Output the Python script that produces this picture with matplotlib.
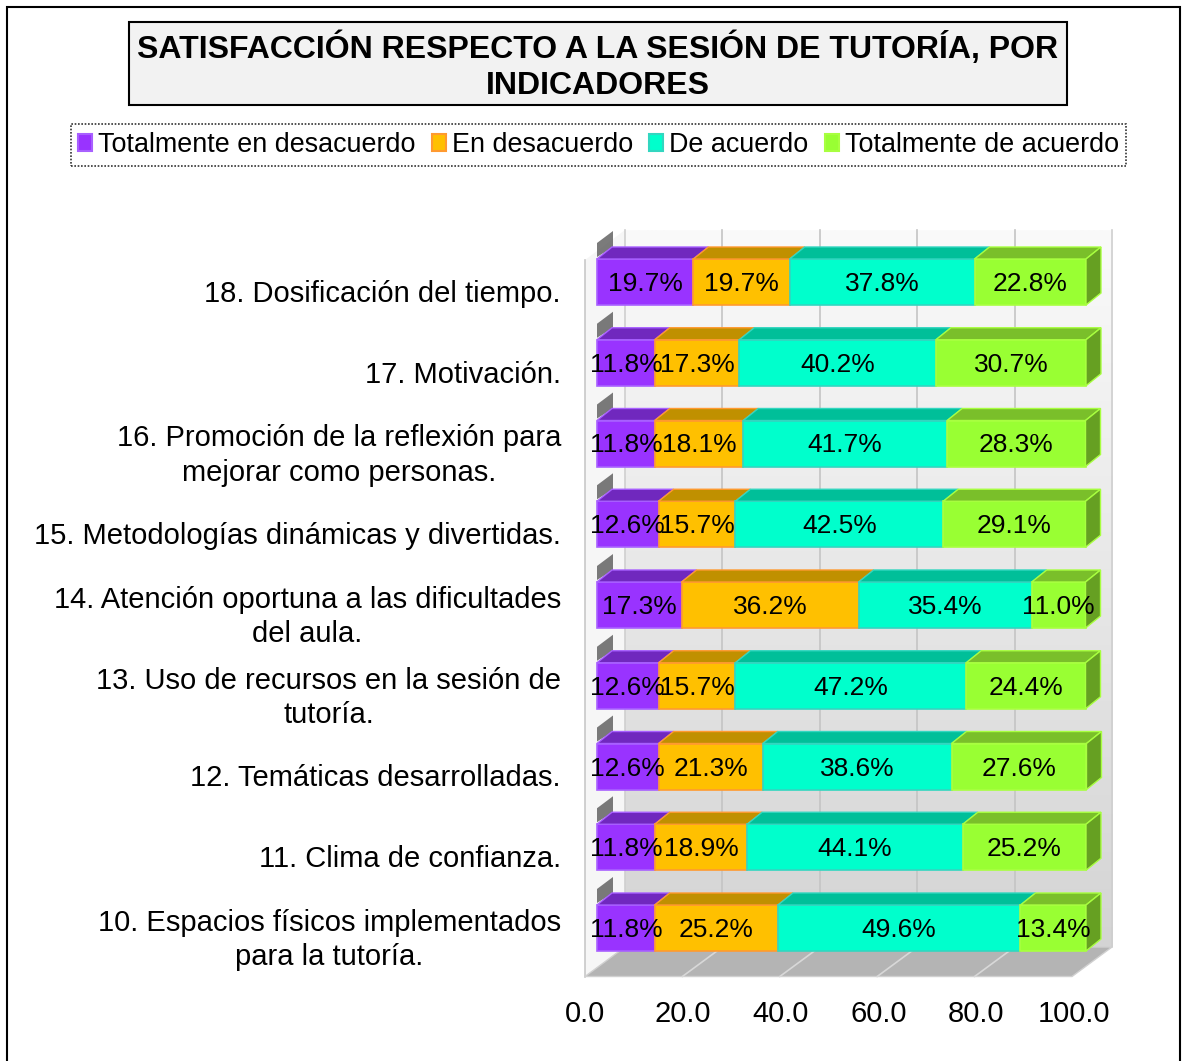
import matplotlib
matplotlib.use("Agg")
import matplotlib.pyplot as plt
import numpy as np
from matplotlib.patches import Polygon, Rectangle, Patch
from matplotlib.transforms import ScaledTranslation
from matplotlib.colors import LinearSegmentedColormap

plt.rcParams['font.family'] = ['Liberation Sans', 'DejaVu Sans']

# ---------------- data ----------------
categories = [
    "10. Espacios físicos implementados\npara la tutoría.",
    "11. Clima de confianza.",
    "12. Temáticas desarrolladas.",
    "13. Uso de recursos en la sesión de\ntutoría.",
    "14. Atención oportuna a las dificultades\ndel aula.",
    "15. Metodologías dinámicas y divertidas.",
    "16. Promoción de la reflexión para\nmejorar como personas.",
    "17. Motivación.",
    "18. Dosificación del tiempo.",
]
series_names = ["Totalmente en desacuerdo", "En desacuerdo", "De acuerdo", "Totalmente de acuerdo"]
tot_desacuerdo = [11.8, 11.8, 12.6, 12.6, 17.3, 12.6, 11.8, 11.8, 19.7]
en_desacuerdo = [25.2, 18.9, 21.3, 15.7, 36.2, 15.7, 18.1, 17.3, 19.7]
de_acuerdo = [49.6, 44.1, 38.6, 47.2, 35.4, 42.5, 41.7, 40.2, 37.8]
tot_acuerdo = [13.4, 25.2, 27.6, 24.4, 11.0, 29.1, 28.3, 30.7, 22.8]
xticks = [0, 20, 40, 60, 80, 100]
title = "SATISFACCIÓN RESPECTO A LA SESIÓN DE TUTORÍA, POR\nINDICADORES"

series = [tot_desacuerdo, en_desacuerdo, de_acuerdo, tot_acuerdo]
front_colors = ["#9933FF", "#FFC000", "#00FFCC", "#99FF33"]
top_colors = ["#7028BE", "#C09000", "#00BF99", "#7ABF2A"]
edge_colors = ["#A860FF", "#FF9A30", "#33D6C0", "#A8FF40"]
side_color = "#66A022"

# ---------------- geometry (pixels) ----------------
W, H, DPI = 1187, 1061, 100
X0, SX = 597.0, 4.89      # px of value 0 on bar front, px per unit
Y0, SY = 928.0, 80.75     # px of row 0 centre, px per row
AX_L, AX_R, AX_T, AX_B = 597, 1086, 232, 990
BAR_H_PX = 46
DX, DY = 15, 12            # bar depth offset (px), right and up

def d(xp, yp):
    return ((xp - X0) / SX, (Y0 - yp) / SY)

def off(v, i, dxp, dup):
    return (v + dxp / SX, i + dup / SY)

fig = plt.figure(figsize=(W / DPI, H / DPI), dpi=DPI)
ax = fig.add_axes([AX_L / W, 1 - AX_B / H, (AX_R - AX_L) / W, (AX_B - AX_T) / H])
ax.set_facecolor("none")
for s in ax.spines.values():
    s.set_visible(False)

# ---------------- walls / floor ----------------
floor_front_y, floor_back_y = 976.5, 947
left_front_x, back_x, back_r = 585, 625, 1112
wall_top_back, wall_top_front = 230, 260
grad = np.linspace(0, 1, 256).reshape(-1, 1)
bx0, by_top = d(back_x, wall_top_back)
bx1, by_bot = d(back_r, floor_back_y)
im = ax.imshow(grad, cmap=LinearSegmentedColormap.from_list("w", ["#fafafa", "#d4d4d4"]),
               extent=[bx0, bx1, by_bot, by_top], aspect="auto", zorder=0, origin="upper")
im.set_clip_on(False)
ax.set_xlim(0, 100)
ax.set_ylim((Y0 - AX_B) / SY, (Y0 - AX_T) / SY)
# left wall
lw = [d(left_front_x, floor_front_y), d(back_x, floor_back_y), d(back_x, wall_top_back), d(left_front_x, wall_top_front)]
ax.add_patch(Polygon(lw, closed=True, facecolor="#f6f6f6", edgecolor="none", zorder=0.5, clip_on=False))
ax.plot(*zip(d(left_front_x, wall_top_front), d(left_front_x, floor_front_y)), color="#c8c8c8", lw=1.2, zorder=1, clip_on=False)
ax.plot(*zip(d(back_x, wall_top_back), d(back_x, floor_back_y)), color="#cfcfcf", lw=1.2, zorder=1, clip_on=False)
ax.plot(*zip(d(back_r, wall_top_back), d(back_r, floor_back_y)), color="#cfcfcf", lw=1.2, zorder=1, clip_on=False)
# floor
fl = [d(left_front_x, floor_front_y), d(1072, floor_front_y), d(back_r, floor_back_y), d(back_x, floor_back_y)]
ax.add_patch(Polygon(fl, closed=True, facecolor="#b4b4b4", edgecolor="#d0d0d0", lw=1, zorder=1, clip_on=False))
fscale = (1072 - left_front_x) / 100.0
bscale = (back_r - back_x) / 100.0
for t in xticks[1:-1]:
    xb = back_x + t * bscale
    xf = left_front_x + t * fscale
    ax.plot(*zip(d(xb, wall_top_back), d(xb, floor_back_y)), color="#c4c4c4", lw=1.2, zorder=1.2, clip_on=False)
    ax.plot(*zip(d(xb, floor_back_y), d(xf, floor_front_y)), color="#d8d8d8", lw=1.2, zorder=1.2, clip_on=False)

# ---------------- bars ----------------
n = len(categories)
rows = list(range(n))
bar_h = BAR_H_PX / SY
for i in rows[::-1]:
    top = i + bar_h / 2
    bot = i - bar_h / 2
    # shadow on left wall
    sh = [off(0, top, 0, 2), off(0, top, 0, 16), off(0, top, 16, 28), off(0, top, 16, 12)]
    ax.add_patch(Polygon(sh, closed=True, facecolor="#5a5a5a", edgecolor="none", alpha=0.8, zorder=2, clip_on=False))
    left = 0.0
    for k, vals in enumerate(series):
        v = vals[i]
        ax.barh(i, v, left=left, height=bar_h, color=front_colors[k], edgecolor=edge_colors[k],
                linewidth=1.2, zorder=3, clip_on=False)
        tp = [(left, top), (left + v, top), off(left + v, top, DX, DY), off(left, top, DX, DY)]
        ax.add_patch(Polygon(tp, closed=True, facecolor=top_colors[k], edgecolor=edge_colors[k], lw=1.0,
                             zorder=3, clip_on=False))
        ax.text(left + v / 2, i - 2 / SY, f"{v:.1f}%", ha="center", va="center", fontsize=19,
                color="black", zorder=5, clip_on=False)
        left += v
    sd = [(left, bot), (left, top), off(left, top, DX, DY), off(left, bot, DX, DY)]
    ax.add_patch(Polygon(sd, closed=True, facecolor=side_color, edgecolor=edge_colors[3], lw=1.0,
                         zorder=3, clip_on=False))

# category labels
for i, lab in zip(rows, categories):
    ax.text(d(561, 0)[0], i - 12 / SY, lab, ha="right", va="center", multialignment="center",
            fontsize=21, linespacing=1.28, clip_on=False)

# x ticks
ax.set_yticks([])
ax.set_xticks(xticks)
ax.set_xticklabels([f"{t:.1f}" for t in xticks], fontsize=21)
ax.tick_params(axis="x", length=0, pad=7)
for lbl in ax.get_xticklabels():
    lbl.set_transform(lbl.get_transform() + ScaledTranslation(-12 / DPI, 0, fig.dpi_scale_trans))

# ---------------- title ----------------
fig.patches.append(Rectangle((129 / W, 1 - 105 / H), (1067 - 129) / W, (105 - 22) / H, transform=fig.transFigure,
                             facecolor="#f2f2f2", edgecolor="black", lw=1.5, zorder=0))
fig.text(598 / W, 1 - 66 / H, title, ha="center", va="center", fontsize=23, fontweight="bold",
         linespacing=1.26, multialignment="center")

# ---------------- legend ----------------
handles = [Patch(facecolor=front_colors[k], edgecolor=edge_colors[k], lw=1.5) for k in range(4)]
leg = fig.legend(handles, series_names, loc="center", bbox_to_anchor=(598.5 / W, 1 - 145 / H), ncol=4,
                 fontsize=19.4, frameon=True, fancybox=False, handlelength=0.52, handleheight=0.55,
                 handletextpad=0.22, columnspacing=0.6, borderpad=0.28, borderaxespad=0)
leg.get_frame().set_edgecolor("black")
leg.get_frame().set_linestyle((0, (1, 1)))
leg.get_frame().set_linewidth(1.2)

# outer frame
fig.patches.append(Rectangle((7 / W, -0.01), (1180 - 7) / W, 1.01 - 7 / H, transform=fig.transFigure,
                             facecolor="none", edgecolor="black", lw=1.5, zorder=10))

fig.savefig("out.png", dpi=DPI)
